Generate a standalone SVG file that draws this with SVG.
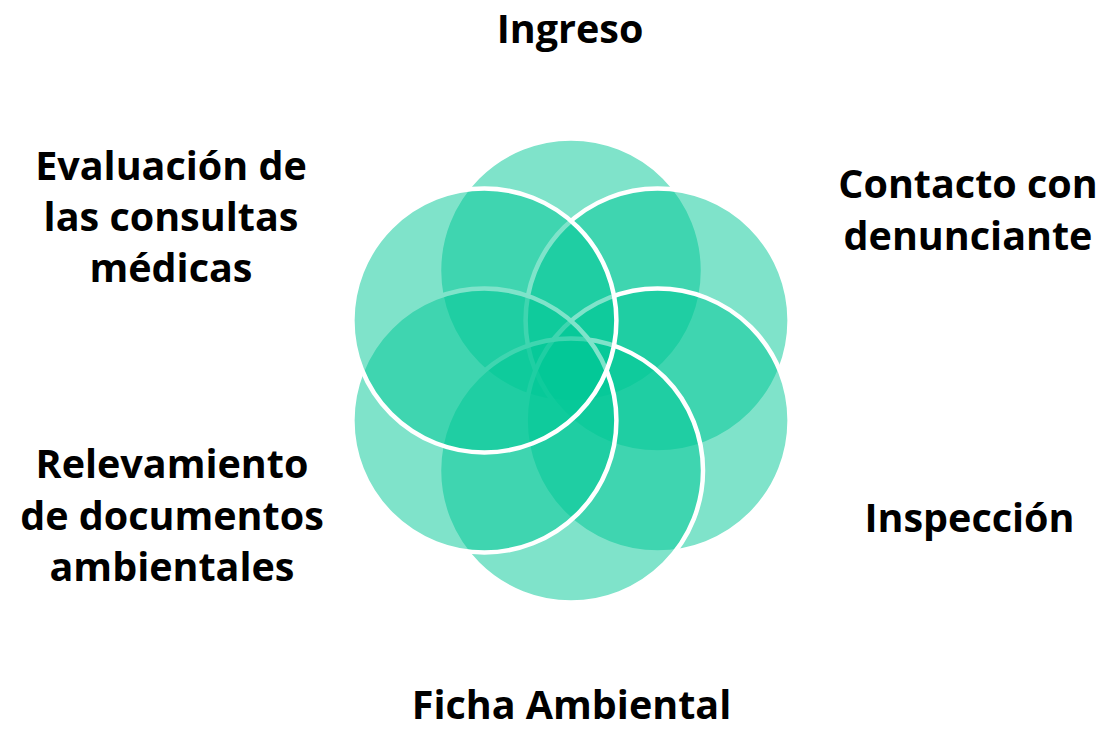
<svg xmlns="http://www.w3.org/2000/svg" width="1104" height="729" viewBox="0 0 1104 729">
  <style>
    .petal { fill: #00C896; fill-opacity: 0.5; stroke: #FFFFFF; stroke-width: 4.5; }
    .label { font-family: "Open Sans", "Liberation Sans", sans-serif; font-weight: 700; font-size: 39.5px; fill: #000000; text-anchor: middle; }
  </style>
  <rect width="1104" height="729" fill="#FFFFFF"/>
  <g id="circles">
    <circle id="c1" class="petal" cx="571" cy="270.5" r="132"/>
    <circle id="c2" class="petal" cx="657.6" cy="320.5" r="132"/>
    <circle id="c3" class="petal" cx="657.6" cy="420.5" r="132"/>
    <circle id="c4" class="petal" cx="571" cy="470.5" r="132"/>
    <circle id="c5" class="petal" cx="484.4" cy="420.5" r="132"/>
    <circle id="c6" class="petal" cx="484.4" cy="320.5" r="132"/>
  </g>
  <g id="labels">
    <g id="n-ingreso"><text class="label" x="570" y="43">Ingreso</text></g>
    <g id="n-contacto">
      <text class="label" x="968" y="198">Contacto con</text>
      <text class="label" x="968" y="250">denunciante</text>
    </g>
    <g id="n-inspeccion"><text class="label" x="969.5" y="532">Inspección</text></g>
    <g id="n-ficha"><text class="label" x="571.5" y="719">Ficha Ambiental</text></g>
    <g id="n-relevamiento">
      <text class="label" x="172" y="478">Relevamiento</text>
      <text class="label" x="172" y="530">de documentos</text>
      <text class="label" x="172" y="581">ambientales</text>
    </g>
    <g id="n-evaluacion">
      <text class="label" x="171" y="180">Evaluación de</text>
      <text class="label" x="171" y="231">las consultas</text>
      <text class="label" x="171" y="282">médicas</text>
    </g>
  </g>
</svg>
